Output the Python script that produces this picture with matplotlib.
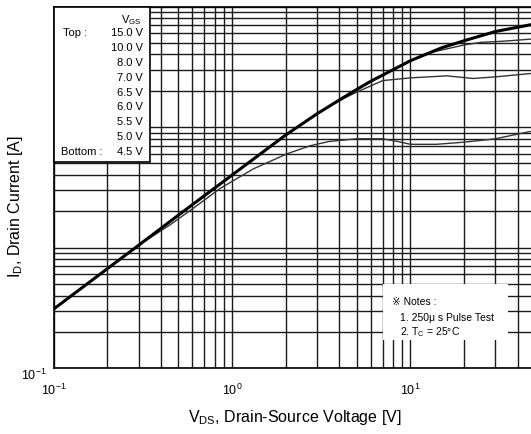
#!/usr/bin/env python3
"""On-region characteristics: I_D vs V_DS (log-log), one curve per V_GS."""
import matplotlib

matplotlib.use("Agg")
import matplotlib.pyplot as plt
from matplotlib.patches import Rectangle
from matplotlib.transforms import ScaledTranslation

plt.rcParams["font.family"] = ["Liberation Sans", "DejaVu Sans", "Noto Sans CJK JP"]
plt.rcParams["mathtext.fontset"] = "custom"
plt.rcParams["mathtext.rm"] = "Liberation Sans"
plt.rcParams["mathtext.it"] = "Liberation Sans"

# --- data (V_DS [V], I_D [A]) ---
vds_top = [0.1, 0.2, 0.3, 0.5, 0.7, 1.0, 1.4, 2.0, 3.0, 4.0, 5.0, 6.0, 7.0, 10, 15, 20, 30, 47]
id_top = [0.31, 0.67, 1.05, 1.86, 2.7, 4.0, 5.8, 8.6, 12.9, 16.8, 20.5, 24.0, 27.0, 35.5, 45.5, 52.0, 62.0, 70.5]

vds_10v = [0.1, 0.2, 0.3, 0.5, 0.7, 1.0, 1.4, 2.0, 3.0, 4.0, 5.0, 6.0, 7.0, 10, 13, 20, 25, 33, 47]
id_10v = [0.31, 0.67, 1.05, 1.86, 2.7, 4.0, 5.8, 8.6, 12.9, 16.8, 20.5, 24.0, 27.0, 35.5, 41.5, 48.0, 50.5, 51.5, 53.6]

vds_mid = [0.1, 0.2, 0.3, 0.5, 0.7, 1.0, 1.4, 2.0, 3.0, 3.6, 4.3, 5.0, 7.0, 10, 16, 22.5, 30, 47]
id_mid = [0.31, 0.67, 1.05, 1.86, 2.7, 4.0, 5.8, 8.6, 12.9, 15.1, 17.5, 19.5, 24.3, 25.6, 26.6, 25.3, 26.1, 27.8]

vds_low = [0.1, 0.2, 0.3, 0.45, 0.6, 0.857, 1.316, 2.03, 2.74, 3.5, 5.0, 7.0, 8.5, 10, 14, 20, 30, 47]
id_low = [0.31, 0.67, 1.05, 1.55, 2.1, 3.1, 4.5, 6.0, 7.0, 7.6, 8.0, 8.0, 7.6, 7.2, 7.2, 7.5, 8.0, 9.2]

vgs_steps = ["15.0 V", "10.0 V", "8.0 V", "7.0 V", "6.5 V", "6.0 V", "5.5 V", "5.0 V", "4.5 V"]
notes = ["\u203b Notes :", "1. 250\u03bc s Pulse Test", "2. T$_\\mathrm{C}$ = 25\u00b0C"]

W, H = 531, 435
fig = plt.figure(figsize=(W / 100, H / 100), dpi=100)
ax = fig.add_axes([53.7 / W, 1 - 369.3 / H, 481.3 / W, 361.8 / H])
ax.set_xscale("log")
ax.set_yscale("log")
ax.set_xlim(0.1, 50)
ax.set_ylim(0.1, 100)

ax.grid(True, which="both", color="#1a1a1a", linewidth=1.0)
ax.set_axisbelow(True)

ax.plot(vds_low, id_low, color="#333333", lw=1.0, zorder=3)
ax.plot(vds_mid, id_mid, color="#333333", lw=1.0, zorder=3)
ax.plot(vds_10v, id_10v, color="#333333", lw=1.0, zorder=3)
ax.plot(vds_top, id_top, color="black", lw=2.2, zorder=4)

# only the lowest decade carries labels in the original
ax.set_xticks([0.1, 1, 10])
ax.set_xticklabels(["$10^{-1}$", "$10^{0}$", "$10^{1}$"], fontsize=9)
ax.set_yticks([0.1, 1, 10, 100])
ax.set_yticklabels(["$10^{-1}$", "", "", ""], fontsize=9)
ax.tick_params(which="both", length=0)
ax.tick_params(axis="x", pad=10)
ax.tick_params(axis="y", pad=5)
shift = ScaledTranslation(0, -3 / 72, fig.dpi_scale_trans)
for lab in ax.get_yticklabels():
    lab.set_transform(lab.get_transform() + shift)
ax.spines["right"].set_visible(False)
for s in ("left", "bottom", "top"):
    ax.spines[s].set_linewidth(1.2)

fig.text(295 / W, 1 - 418 / H, "V$_{\\mathrm{DS}}$, Drain-Source Voltage [V]",
         ha="center", va="center", fontsize=11.5)
fig.text(16 / W, 1 - 206 / H, "I$_{\\mathrm{D}}$, Drain Current [A]",
         ha="center", va="center", fontsize=11.5, rotation=90)

# legend box (top-left)
fig.patches.append(Rectangle((53.7 / W, 1 - 163 / H), (149.5 - 53.7) / W, (163 - 7.5) / H,
                             transform=fig.transFigure, facecolor="white",
                             edgecolor="black", lw=1.2, zorder=5))
fig.text(131 / W, 1 - 20 / H, "V$_{\\mathrm{GS}}$", ha="center", va="center",
         fontsize=8, zorder=6)
for k, lab in enumerate(vgs_steps):
    y = 33.5 + k * 14.8
    fig.text(143 / W, 1 - y / H, lab, ha="right", va="center", fontsize=8, zorder=6)
fig.text(63 / W, 1 - 33.5 / H, "Top :", ha="left", va="center", fontsize=8, zorder=6)
fig.text(61 / W, 1 - 152 / H, "Bottom :", ha="left", va="center", fontsize=8, zorder=6)

# notes box (no border)
fig.patches.append(Rectangle((383 / W, 1 - 341 / H), (508 - 383) / W, (341 - 285) / H,
                             transform=fig.transFigure, facecolor="white",
                             edgecolor="none", zorder=5))
fig.text(392 / W, 1 - 302 / H, notes[0], ha="left", va="center", fontsize=7.5, zorder=6)
fig.text(400 / W, 1 - 318 / H, notes[1], ha="left", va="center", fontsize=7.5, zorder=6)
fig.text(400 / W, 1 - 332 / H, notes[2], ha="left", va="center", fontsize=7.5, zorder=6)

fig.savefig("out.png", dpi=100)
